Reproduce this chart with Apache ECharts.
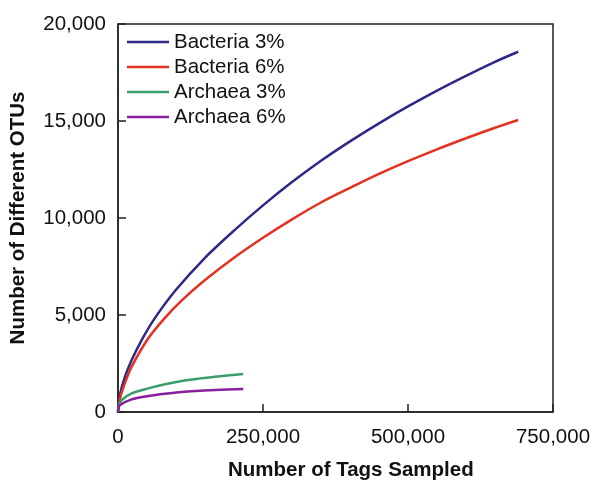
<!DOCTYPE html>
<html>
<head>
<meta charset="utf-8">
<script src="https://cdn.jsdelivr.net/npm/echarts@6/dist/echarts.min.js"></script>
<style>html,body{margin:0;padding:0;background:#fff}#c{width:596px;height:481px}</style>
</head>
<body>
<div id="c"></div>
<script>
var seriesNames = ['Bacteria 3%', 'Bacteria 6%', 'Archaea 3%', 'Archaea 6%'];
var xTicks = [0, 250000, 500000, 750000];
var yTicks = [0, 5000, 10000, 15000, 20000];

var bacteria3 = [[0,0],[3450,900],[12000,1820],[23600,2680],[40800,3710],[63800,4850],[100000,6300],[150000,7950],[200000,9350],[250000,10650],[300000,11850],[350000,12950],[400000,13950],[450000,14880],[500000,15750],[550000,16570],[600000,17330],[650000,18050],[690000,18570]];
var bacteria6 = [[0,0],[3450,700],[12000,1500],[23600,2340],[52300,3800],[81000,4850],[110000,5750],[150000,6800],[200000,7950],[250000,8980],[300000,9930],[350000,10800],[400000,11550],[450000,12270],[500000,12930],[550000,13540],[600000,14110],[650000,14650],[690000,15050]];
var archaea3 = [[0,0],[2000,350],[6400,620],[23600,960],[52300,1220],[81000,1430],[109800,1600],[138500,1720],[167200,1820],[216000,1960]];
var archaea6 = [[0,0],[1000,200],[3450,360],[23600,650],[52300,820],[81000,940],[109800,1030],[167200,1130],[216000,1190]];

var colors = ['#2c2a86', '#e5311f', '#3a9e6c', '#8a1f9e'];
var dataSets = [bacteria3, bacteria6, archaea3, archaea6];

var chart = echarts.init(document.getElementById('c'));
var fmt = function (v) { return Number(v).toLocaleString('en-US'); };
var font = 'Liberation Sans, Arial, Helvetica, sans-serif';

chart.setOption({
  animation: false,
  backgroundColor: '#fff',
  textStyle: { fontFamily: font },
  grid: { left: 118, right: 43, top: 24, bottom: 69, show: true, borderColor: '#222', borderWidth: 1.5, backgroundColor: 'transparent' },
  legend: {
    data: seriesNames,
    orient: 'vertical',
    left: 127, top: 31.5,
    padding: 0,
    icon: 'rect',
    itemWidth: 42, itemHeight: 2.5,
    itemGap: 4,
    textStyle: { fontSize: 20.5, color: '#111', fontFamily: font, lineHeight: 21, padding: [0, 0, 0, 0] }
  },
  xAxis: {
    type: 'value', min: xTicks[0], max: xTicks[xTicks.length - 1], interval: 250000,
    axisLine: { show: true, lineStyle: { color: '#222', width: 1.5 } },
    axisTick: { show: true, inside: true, length: 8, lineStyle: { color: '#222', width: 1.5 } },
    axisLabel: { formatter: fmt, fontSize: 20.5, color: '#111', margin: 15, fontFamily: font },
    splitLine: { show: false }
  },
  yAxis: {
    type: 'value', min: yTicks[0], max: yTicks[yTicks.length - 1], interval: 5000,
    name: 'Number of Different OTUs', nameLocation: 'middle', nameGap: 89,
    nameTextStyle: { fontSize: 20.5, fontWeight: 'bold', color: '#111', fontFamily: font },
    axisLine: { show: true, lineStyle: { color: '#222', width: 1.5 } },
    axisTick: { show: true, inside: true, length: 8, lineStyle: { color: '#222', width: 1.5 } },
    axisLabel: { formatter: fmt, fontSize: 20.5, color: '#111', margin: 12, fontFamily: font },
    splitLine: { show: false }
  },
  graphic: [{
    type: 'text', x: 228, y: 470,
    style: { text: 'Number of Tags Sampled', font: 'bold 20.5px ' + font, fill: '#111', textAlign: 'left', textVerticalAlign: 'middle' }
  }],
  series: dataSets.map(function (d, i) {
    return {
      name: seriesNames[i], type: 'line', data: d, symbol: 'none', smooth: 0.3,
      lineStyle: { color: colors[i], width: 2.5 }, itemStyle: { color: colors[i] }
    };
  })
});
</script>
</body>
</html>
